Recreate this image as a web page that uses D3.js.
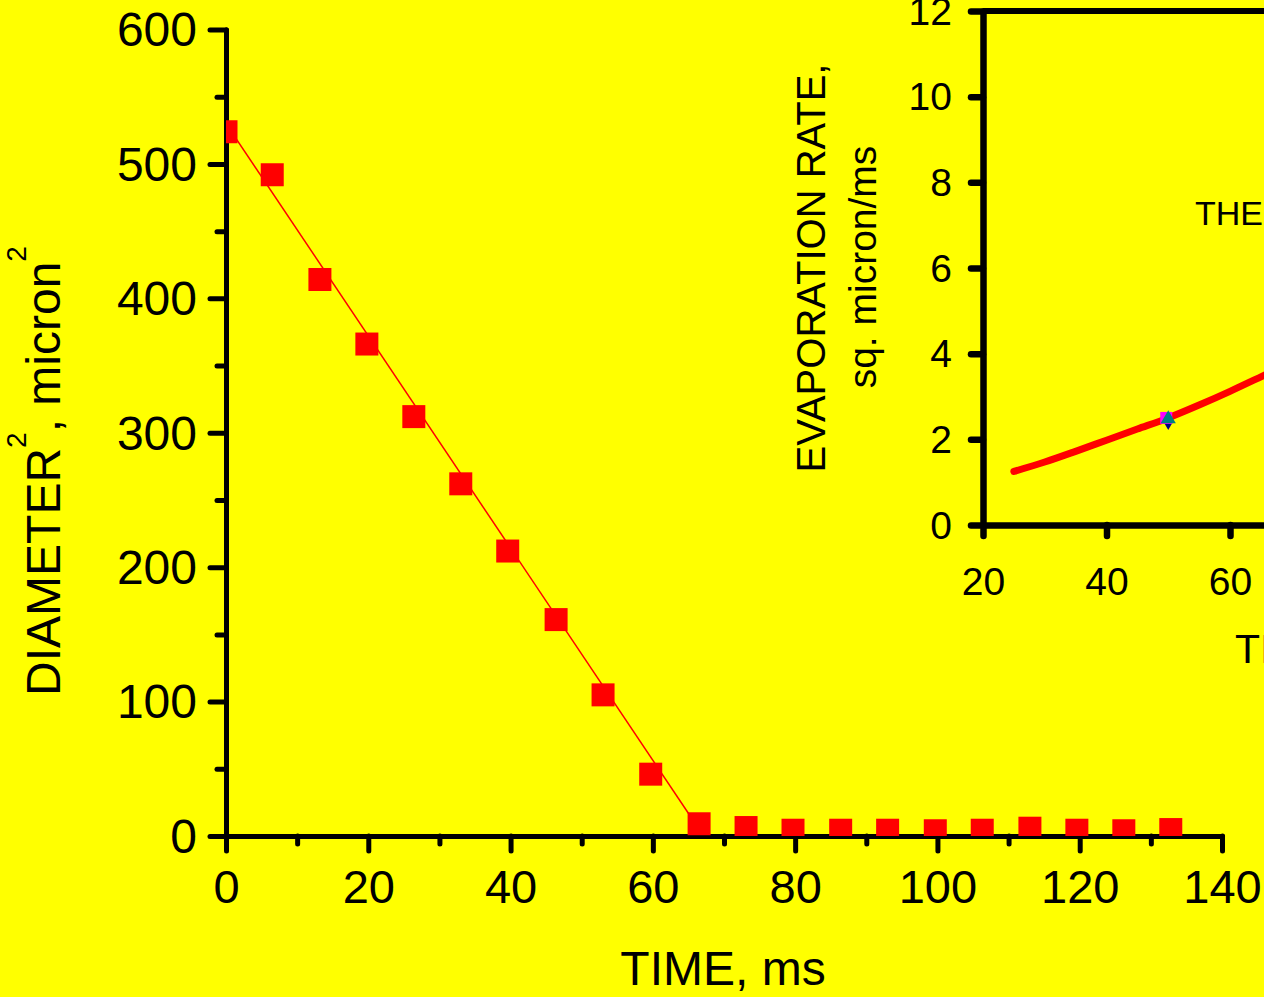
<!DOCTYPE html>
<html>
<head>
  <title>Droplet evaporation</title>
  <script src="https://d3js.org/d3.v7.min.js"></script>
  <style>
    body { margin: 0; background: #ffff00; }
    text { font-family: "Liberation Sans", Arial, sans-serif; fill: #000; }
  </style>
</head>
<body>
<svg width="1264" height="997"></svg>
<script>
  // main plot: diameter squared vs time
  const timeMs = [0, 6.5, 13.2, 19.8, 26.4, 33.0, 39.6, 46.4, 53.0, 59.7, 66.5,
                  73.1, 79.7, 86.4, 93.0, 99.7, 106.3, 113.0, 119.6, 126.2, 132.8];
  const diamSq = [524, 492, 414, 366, 312, 262, 212, 161, 105, 46, 9.1,
                  6.3, 4.3, 4.3, 4.3, 3.9, 4.3, 5.8, 4.3, 3.9, 4.8];
  // straight fit through the burning part
  const fitTime = [0, 66.5];
  const fitDiamSq = [530, 5];

  const xTicks = [0, 20, 40, 60, 80, 100, 120, 140];
  const xMinor = [10, 30, 50, 70, 90, 110, 130];
  const yTicks = [0, 100, 200, 300, 400, 500, 600];
  const yMinor = [50, 150, 250, 350, 450, 550];

  // inset: evaporation rate vs time
  const insetTime = [25, 30, 35, 40, 45, 50, 55, 60, 65, 70];
  const insetRate = [1.25, 1.47, 1.72, 1.98, 2.24, 2.5, 2.8, 3.12, 3.46, 3.8];
  const insetXTicks = [20, 40, 60];
  const insetYTicks = [0, 2, 4, 6, 8, 10, 12];
  const markTime = 50;
  const markSquare = 2.5, markTriangle = 2.5, markDiamond = 2.4;

  const svg = d3.select("svg");
  svg.append("rect").attr("width", 1264).attr("height", 997).attr("fill", "#ffff00");

  const x = d3.scaleLinear().domain([0, 140]).range([226, 1222]);
  const y = d3.scaleLinear().domain([0, 600]).range([836, 29.5]);

  function styleAxis(g, w) {
    g.select(".domain").attr("stroke", "#000").attr("stroke-width", w).attr("stroke-linecap", "round");
    g.selectAll(".tick line").attr("stroke", "#000").attr("stroke-width", w).attr("stroke-linecap", "round");
    g.selectAll("text").attr("fill", "#000");
  }

  // main axes
  const gx = svg.append("g").attr("transform", "translate(0," + y(0) + ")");
  gx.call(d3.axisBottom(x).tickValues(xMinor).tickSize(8).tickFormat("").tickSizeOuter(0));
  styleAxis(gx, 5);
  const gx2 = svg.append("g").attr("transform", "translate(0," + y(0) + ")");
  gx2.call(d3.axisBottom(x).tickValues(xTicks).tickSize(15).tickPadding(19).tickSizeOuter(0));
  styleAxis(gx2, 5);
  gx2.selectAll("text").style("font-size", "47px");

  const gy = svg.append("g").attr("transform", "translate(" + x(0) + ",0)");
  gy.call(d3.axisLeft(y).tickValues(yMinor).tickSize(9).tickFormat("").tickSizeOuter(0));
  styleAxis(gy, 5);
  const gy2 = svg.append("g").attr("transform", "translate(" + x(0) + ",0)");
  gy2.call(d3.axisLeft(y).tickValues(yTicks).tickSize(16).tickPadding(13).tickSizeOuter(0));
  styleAxis(gy2, 5);
  gy2.selectAll("text").style("font-size", "48px").attr("dy", "0.34em");

  // data clipped to the plot frame
  svg.append("clipPath").attr("id", "mainClip").append("rect")
    .attr("x", x(0)).attr("y", y(600) - 20)
    .attr("width", x(140) - x(0)).attr("height", y(0) - y(600) + 20);

  const plot = svg.append("g").attr("clip-path", "url(#mainClip)");

  plot.append("path")
    .datum(fitTime.map((t, i) => [t, fitDiamSq[i]]))
    .attr("fill", "none")
    .attr("stroke", "#ff0000")
    .attr("stroke-width", 1.5)
    .attr("d", d3.line().x(d => x(d[0])).y(d => y(d[1])));

  plot.selectAll(".pt")
    .data(timeMs.map((t, i) => [t, diamSq[i]]))
    .enter().append("path")
    .attr("class", "pt")
    .attr("transform", d => "translate(" + x(d[0]) + "," + y(d[1]) + ")")
    .attr("d", d3.symbol().type(d3.symbolSquare).size(23 * 23))
    .attr("fill", "#ff0000");

  svg.append("text")
    .attr("x", 723).attr("y", 985)
    .attr("text-anchor", "middle")
    .style("font-size", "48px")
    .text("TIME, ms");

  const yl = svg.append("text")
    .attr("transform", "translate(60,471) rotate(-90)")
    .attr("text-anchor", "middle")
    .style("font-size", "48px");
  yl.append("tspan").text("DIAMETER");
  yl.append("tspan").attr("dy", -34).style("font-size", "28px").text("2");
  yl.append("tspan").attr("dy", 34).text(", micron");
  yl.append("tspan").attr("dy", -34).style("font-size", "28px").text("2");

  // inset
  const xi = d3.scaleLinear().domain([20, 100]).range([983, 1477]);
  const yi = d3.scaleLinear().domain([0, 12]).range([525, 11]);

  svg.append("line")
    .attr("x1", xi(20)).attr("x2", xi(100))
    .attr("y1", yi(12)).attr("y2", yi(12))
    .attr("stroke", "#000").attr("stroke-width", 6);

  const gix = svg.append("g").attr("transform", "translate(0," + yi(0) + ")");
  gix.call(d3.axisBottom(xi).tickValues(insetXTicks).tickSize(11).tickPadding(31).tickSizeOuter(0));
  styleAxis(gix, 6.5);
  gix.selectAll("text").style("font-size", "39px");

  const giy = svg.append("g").attr("transform", "translate(" + xi(20) + ",0)");
  giy.call(d3.axisLeft(yi).tickValues(insetYTicks).tickSize(12).tickPadding(19).tickSizeOuter(0));
  styleAxis(giy, 6.5);
  giy.selectAll("text").style("font-size", "39px").attr("dy", "0.34em");

  svg.append("path")
    .datum(insetTime.map((t, i) => [t, insetRate[i]]))
    .attr("fill", "none")
    .attr("stroke", "#ff0000")
    .attr("stroke-width", 7)
    .attr("stroke-linecap", "round")
    .attr("d", d3.line().curve(d3.curveMonotoneX).x(d => xi(d[0])).y(d => yi(d[1])));

  svg.append("path")
    .attr("transform", "translate(" + xi(markTime) + "," + yi(markDiamond) + ")")
    .attr("d", d3.symbol().type(d3.symbolDiamond).size(70))
    .attr("fill", "#000080");
  svg.append("path")
    .attr("transform", "translate(" + (xi(markTime) - 2) + "," + yi(markSquare) + ")")
    .attr("d", d3.symbol().type(d3.symbolSquare).size(144))
    .attr("fill", "#ff00ff");
  svg.append("path")
    .attr("transform", "translate(" + xi(markTime) + "," + (yi(markTriangle) + 1) + ")")
    .attr("d", d3.symbol().type(d3.symbolTriangle).size(100))
    .attr("fill", "#008080");

  svg.append("text")
    .attr("x", 1195).attr("y", 225)
    .style("font-size", "34px")
    .text("THEORY");

  svg.append("text")
    .attr("x", 1235).attr("y", 663)
    .style("font-size", "41px")
    .text("TIME, ms");

  svg.append("text")
    .attr("transform", "translate(825,268) rotate(-90)")
    .attr("text-anchor", "middle")
    .style("font-size", "40px")
    .text("EVAPORATION RATE,");
  svg.append("text")
    .attr("transform", "translate(876,267) rotate(-90)")
    .attr("text-anchor", "middle")
    .style("font-size", "39px")
    .text("sq. micron/ms");
</script>
</body>
</html>
